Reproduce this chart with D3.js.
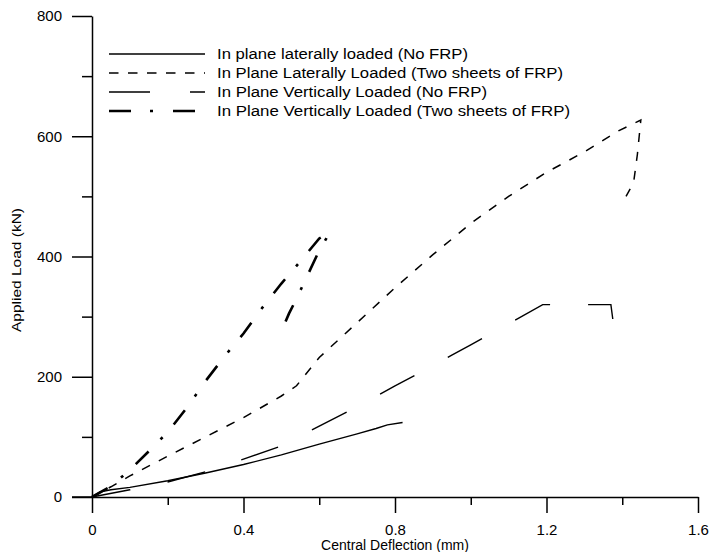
<!DOCTYPE html>
<html>
<head>
<meta charset="utf-8">
<script src="https://cdn.jsdelivr.net/npm/d3@7"></script>
<style>
  body { margin: 0; background: #fff; }
  svg { display: block; font-family: "Liberation Sans", Arial, sans-serif; }
</style>
</head>
<body>
<div id="app"></div>
<script>
// deflection (mm) / load (kN) pairs
const lateralNoFrp = [
  [0, 0], [0.02, 8], [0.05, 12], [0.1, 16], [0.2, 27], [0.3, 40], [0.4, 54],
  [0.5, 70], [0.6, 88], [0.7, 105], [0.75, 114], [0.78, 120], [0.82, 124]
];
const lateralFrp = [
  [0, 0], [0.05, 17], [0.1, 35], [0.2, 68], [0.3, 100], [0.4, 132], [0.5, 168],
  [0.54, 185], [0.6, 232], [0.7, 290], [0.8, 348], [0.9, 403], [1.0, 455],
  [1.1, 500], [1.2, 540], [1.3, 574], [1.39, 609], [1.449, 627], [1.44, 570],
  [1.43, 523], [1.41, 500]
];
const verticalNoFrp = [
  [0, 0], [0.1, 12], [0.2, 25], [0.3, 42], [0.4, 63], [0.5, 85], [0.6, 118],
  [0.7, 150], [0.8, 185], [0.9, 218], [0.95, 236], [1.0, 253], [1.1, 288],
  [1.19, 320], [1.37, 320], [1.375, 296]
];
const verticalFrp = [
  [0, 0], [0.05, 18], [0.1, 45], [0.15, 76], [0.2, 108], [0.25, 148], [0.3, 193],
  [0.35, 234], [0.4, 272], [0.45, 315], [0.5, 355], [0.55, 392], [0.6, 430],
  [0.628, 440], [0.6, 410], [0.57, 370], [0.54, 330], [0.52, 305], [0.495, 268]
];

const legendLabels = [
  'In plane laterally loaded (No FRP)',
  'In Plane Laterally Loaded (Two sheets of FRP)',
  'In Plane Vertically Loaded (No FRP)',
  'In Plane Vertically Loaded (Two sheets of FRP)'
];

const xMajor = [0, 0.4, 0.8, 1.2, 1.6];
const xMinor = [0.2, 0.6, 1.0, 1.4];
const yMajor = [0, 200, 400, 600, 800];
const yMinor = [100, 300, 500, 700];

const svg = d3.select('#app')
  .append('svg')
  .attr('width', 709)
  .attr('height', 552);

const x = d3.scaleLinear().domain([0, 1.6]).range([92, 698]);
const y = d3.scaleLinear().domain([0, 800]).range([497, 16]);

const styleAxis = (g) => {
  g.selectAll('path, line').attr('stroke', '#000').attr('stroke-width', 1.5);
  g.selectAll('text').attr('fill', '#000').attr('font-size', 15)
    .attr('font-family', '"Liberation Sans", Arial, sans-serif');
};

// y axis
svg.append('g')
  .attr('transform', 'translate(92,0)')
  .call(d3.axisLeft(y).tickValues(yMajor).tickSize(20).tickSizeOuter(0).tickPadding(10))
  .call(styleAxis);

svg.append('g')
  .attr('transform', 'translate(92,0)')
  .call(d3.axisLeft(y).tickValues(yMinor).tickSize(10).tickFormat(''))
  .call(styleAxis)
  .select('.domain').remove();

// x axis
svg.append('g')
  .attr('transform', 'translate(0,497)')
  .call(d3.axisBottom(x).tickValues(xMajor).tickSize(16).tickSizeOuter(0).tickPadding(11)
    .tickFormat(d => d === 0 ? '0' : d3.format('.1f')(d)))
  .call(styleAxis);

svg.append('g')
  .attr('transform', 'translate(0,497)')
  .call(d3.axisBottom(x).tickValues(xMinor).tickSize(8).tickFormat(''))
  .call(styleAxis)
  .select('.domain').remove();

// axes continue a little past origin
svg.append('line')
  .attr('x1', 72).attr('x2', 92).attr('y1', 497).attr('y2', 497)
  .attr('stroke', '#000').attr('stroke-width', 1.5);

svg.append('text')
  .attr('x', 395)
  .attr('y', 550)
  .attr('text-anchor', 'middle')
  .attr('font-size', 14)
  .text('Central Deflection (mm)');

svg.append('text')
  .attr('transform', 'translate(21,270) rotate(-90)')
  .attr('text-anchor', 'middle')
  .attr('font-size', 13)
  .attr('textLength', 124)
  .attr('lengthAdjust', 'spacingAndGlyphs')
  .text('Applied Load (kN)');

const line = d3.line().x(d => x(d[0])).y(d => y(d[1]));

const series = [
  { data: lateralNoFrp, width: 1.4, dash: null, legendDash: null, textWidth: 251 },
  { data: lateralFrp, width: 1.5, dash: '9,10', legendDash: '9.5,9.5', textWidth: 346 },
  { data: verticalNoFrp, width: 1.4, dash: '39,38', legendDash: '41,40', textWidth: 270 },
  { data: verticalFrp, width: 2.6, dash: '18,17,3,17', legendDash: '22,19,3,20', textWidth: 353 }
];

series.forEach(s => {
  svg.append('path')
    .attr('d', line(s.data))
    .attr('fill', 'none')
    .attr('stroke', '#000')
    .attr('stroke-width', s.width)
    .attr('stroke-dasharray', s.dash);
});

// legend
const legend = svg.append('g');
series.forEach((s, i) => {
  const ly = 54 + i * 19;
  legend.append('line')
    .attr('x1', 109).attr('x2', 205)
    .attr('y1', ly).attr('y2', ly)
    .attr('stroke', '#000')
    .attr('stroke-width', s.width)
    .attr('stroke-dasharray', s.legendDash);
  legend.append('text')
    .attr('x', 217)
    .attr('y', ly + 5)
    .attr('font-size', 15.5)
    .attr('textLength', s.textWidth)
    .attr('lengthAdjust', 'spacingAndGlyphs')
    .text(legendLabels[i]);
});
</script>
</body>
</html>
